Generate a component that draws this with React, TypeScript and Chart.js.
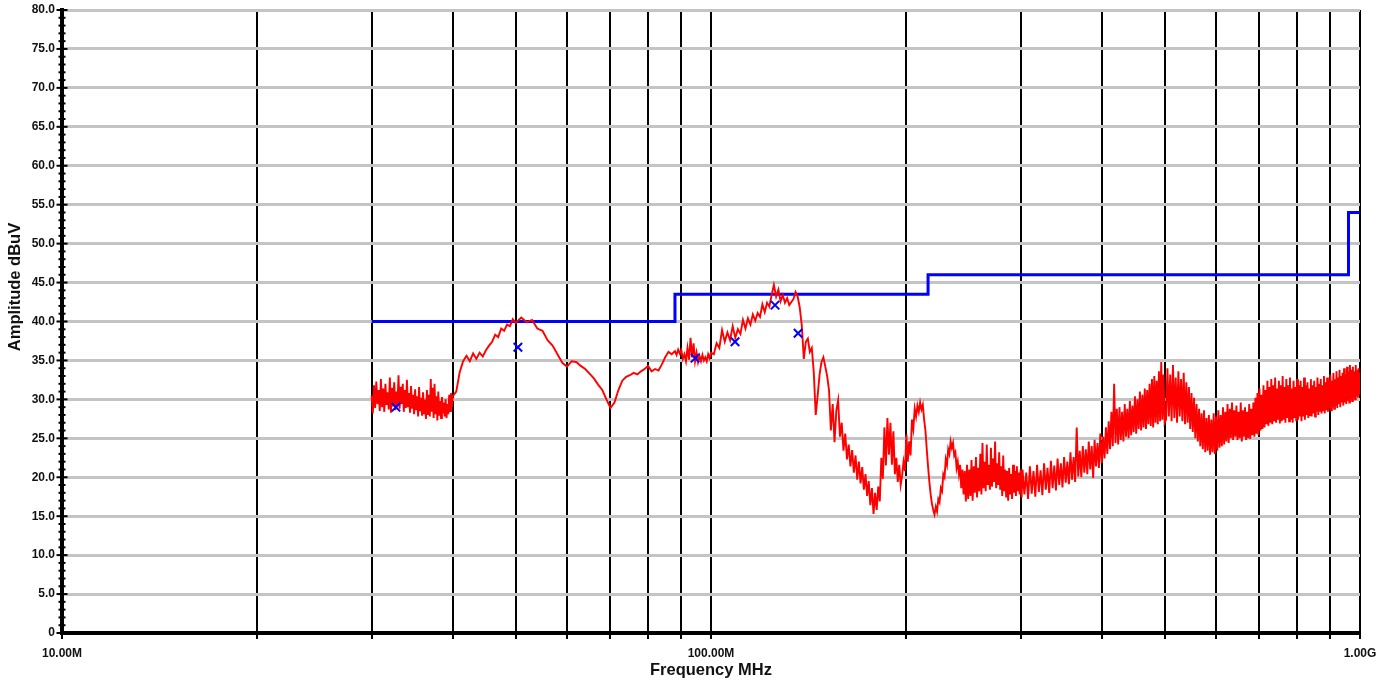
import React, { useEffect, useRef } from "react";
import { Chart, registerables } from "chart.js";

Chart.register(...registerables);

const FONT = "'Liberation Sans', Arial, sans-serif";

// ---- axis definitions ----
const xGridFreqs = [10, 20, 30, 40, 50, 60, 70, 80, 90, 100, 200, 300, 400, 500, 600, 700, 800, 900, 1000];
const xTickLabels: Record<number, string> = { 10: "10.00M", 100: "100.00M", 1000: "1.00G" };
const yMin = 0;
const yMax = 80;
const yMajorStep = 5;

// ---- FCC class B limit (dBuV) ----
const limitFreq = [30, 88, 88, 216, 216, 960, 960, 1000];
const limitLevel = [40, 40, 43.5, 43.5, 46, 46, 54, 54];

// ---- quasi-peak markers ----
const qpFreq = [32.7, 50.4, 94.5, 108.9, 125.5, 136.2];
const qpLevel = [29.0, 36.7, 35.3, 37.4, 42.1, 38.5];

// ---- peak sweep trace [MHz, dBuV] ----
const band30to40: [number, number][] = [
  [30.0, 30.5], [30.125, 28.2], [30.25, 31.8], [30.375, 28.9], [30.5, 32.3], [30.625, 29.4], [30.75, 31.2], [30.875, 28.5],
  [31.0, 32.6], [31.125, 29.0], [31.25, 31.4], [31.375, 28.4], [31.5, 32.0], [31.625, 29.3], [31.75, 30.9], [31.875, 28.7],
  [32.0, 32.8], [32.125, 28.3], [32.25, 31.5], [32.375, 29.1], [32.5, 32.2], [32.625, 28.6], [32.75, 31.0], [32.875, 29.2],
  [33.0, 33.1], [33.125, 28.8], [33.25, 31.6], [33.375, 29.4], [33.5, 32.0], [33.625, 28.4], [33.75, 31.2], [33.875, 28.9],
  [34.0, 32.5], [34.125, 29.0], [34.25, 30.8], [34.375, 28.3], [34.5, 31.7], [34.625, 28.8], [34.75, 30.6], [34.875, 28.1],
  [35.0, 31.3], [35.125, 28.6], [35.25, 30.4], [35.375, 27.8], [35.5, 31.6], [35.625, 28.5], [35.75, 30.2], [35.875, 27.9],
  [36.0, 30.9], [36.125, 28.2], [36.25, 30.0], [36.375, 27.5], [36.5, 31.2], [36.625, 28.0], [36.75, 30.6], [36.875, 27.8],
  [37.0, 32.6], [37.125, 28.4], [37.25, 31.5], [37.375, 27.6], [37.5, 32.0], [37.625, 28.1], [37.75, 30.4], [37.875, 27.3],
  [38.0, 31.0], [38.125, 27.9], [38.25, 29.8], [38.375, 27.6], [38.5, 30.3], [38.625, 28.2], [38.75, 29.6], [38.875, 27.8],
  [39.0, 30.0], [39.125, 27.6], [39.25, 29.4], [39.375, 28.1], [39.5, 30.6], [39.625, 28.5], [39.75, 30.8], [39.875, 29.0],
  [40.0, 30.4],
];
const band40to88: [number, number][] = [
  [40.5, 31.0], [41, 33.5], [41.5, 34.9], [42, 35.6], [42.5, 34.9], [43, 35.9], [43.5, 35.2], [44, 36.0], [44.5, 35.5],
  [45, 36.3], [45.5, 36.9], [46, 37.4], [46.5, 38.3], [47, 38.0], [47.5, 39.1], [48, 38.8], [48.5, 39.6], [49, 39.4],
  [49.5, 40.3], [50, 39.8], [51, 40.5], [52, 39.9], [53, 40.2], [54, 39.1], [55, 38.8], [56, 37.6], [57, 36.9],
  [58, 35.8], [59, 34.7], [60, 34.2], [61, 34.9], [62, 34.8], [63, 34.3], [64, 33.9], [65, 33.3], [66, 32.7],
  [67, 31.9], [68, 31.2], [69, 30.0], [70, 28.9], [71, 29.6], [72, 31.2], [73, 32.4], [74, 32.9], [75, 33.1],
  [76, 33.4], [77, 33.2], [78, 33.6], [79, 33.9], [80, 34.3], [81, 33.6], [82, 33.9], [83, 33.7], [84, 34.5],
  [85, 35.4], [86, 36.1], [87, 35.8], [88, 36.2],
];
const band88to150: [number, number][] = [
  [88.5, 35.7], [89, 36.4], [89.5, 35.9], [90, 36.3], [90.5, 35.2], [91, 35.8], [91.5, 34.9], [92, 36.6],
  [92.5, 35.1], [93, 37.9], [93.5, 35.4], [94, 37.2], [94.5, 34.9], [95, 36.0], [95.5, 34.8], [96, 35.6],
  [96.5, 34.9], [97, 35.7], [97.5, 35.0], [98, 35.4], [98.5, 34.9], [99, 35.8], [99.5, 35.3], [100, 36.0],
  [101, 35.8], [102, 37.2], [103, 36.6], [104, 38.9], [105, 37.4], [106, 38.6], [107, 37.6], [108, 39.4],
  [109, 37.9], [110, 39.0], [111, 38.4], [112, 40.2], [113, 39.1], [114, 40.4], [115, 39.6], [116, 40.9],
  [117, 40.1], [118, 41.1], [119, 40.6], [120, 42.2], [121, 41.2], [122, 42.4], [123, 41.9], [124, 43.4],
  [125, 44.7], [126, 43.2], [127, 44.1], [128, 42.6], [129, 43.4], [130, 42.4], [131, 43.0], [132, 42.1],
  [133, 42.5], [134, 42.9], [135, 43.8], [136, 43.2], [137, 41.8], [138, 39.5], [139, 35.2], [140, 37.4],
  [141, 37.8], [142, 36.1], [143, 36.6], [144, 33.5], [145, 28.0], [146, 30.5], [147, 33.2], [148, 34.8],
  [149, 35.4], [150, 34.2],
];
const band150to200: [number, number][] = [
  [151, 33.0], [152, 31.2], [153, 26.0], [154, 29.4], [155, 24.5], [156, 28.6], [157, 29.9], [158, 25.2],
  [159, 27.0], [160, 23.4], [161, 25.6], [162, 22.3], [163, 24.2], [164, 21.4], [165, 23.5], [166, 20.6],
  [167, 22.8], [168, 19.7], [169, 22.0], [170, 19.2], [171, 21.3], [172, 18.4], [173, 20.4], [174, 17.6],
  [175, 19.5], [176, 16.4], [177, 18.6], [178, 15.3], [179, 18.0], [180, 15.8], [181, 18.8], [182, 16.9],
  [183, 22.5], [184, 19.8], [185, 26.4], [186, 21.5], [187, 27.6], [188, 22.9], [189, 27.0], [190, 21.6],
  [191, 25.9], [192, 20.4], [193, 22.5], [194, 19.4], [195, 21.6], [196, 19.0], [197, 20.2], [198, 22.0],
  [199, 20.8], [200, 25.5],
];
const band200to300: [number, number][] = [
  [201, 22.0], [202, 24.6], [203, 22.8], [204, 27.4], [205, 26.2], [206, 28.8], [207, 27.8], [208, 29.2],
  [209, 28.4], [210, 29.6], [211, 28.7], [212, 29.3], [213, 27.4], [214, 26.0], [215, 23.6], [216, 21.4],
  [217, 19.4], [218, 17.8], [219, 16.6], [220, 15.8], [221, 15.2], [222, 16.2], [223, 15.6], [224, 17.2],
  [225, 16.8], [226, 18.6], [227, 18.2], [228, 20.4], [229, 20.0], [230, 22.3], [231, 21.6], [232, 23.6],
  [233, 23.0], [234, 24.6], [235, 23.8], [236, 24.4], [237, 22.8], [238, 23.2], [239, 21.2], [240, 22.0],
  [241, 20.4], [242, 21.6], [243, 18.6], [244, 21.0], [245, 17.8], [246, 20.8], [247, 16.9], [248, 21.6],
  [249, 17.2], [250, 21.0], [251, 17.6], [252, 22.2], [253, 17.0], [254, 21.4], [255, 18.0], [256, 22.6],
  [257, 17.4], [258, 21.2], [259, 18.2], [260, 23.0], [261, 17.8], [262, 24.4], [263, 18.6], [264, 22.0],
  [265, 18.2], [266, 24.2], [267, 19.0], [268, 21.6], [269, 18.4], [270, 23.8], [271, 18.8], [272, 22.4],
  [273, 19.4], [274, 24.6], [275, 18.6], [276, 21.8], [277, 19.0], [278, 23.2], [279, 18.4], [280, 21.4],
  [281, 17.6], [282, 22.8], [283, 18.2], [284, 21.0], [285, 17.4], [286, 20.8], [287, 17.0], [288, 21.2],
  [289, 17.8], [290, 20.4], [291, 17.2], [292, 21.6], [293, 18.0], [294, 20.8], [295, 17.6], [296, 21.4],
  [297, 18.2], [298, 20.6], [299, 17.8], [300, 21.0],
];
const band300to500: [number, number][] = [
  [301, 17.4], [302, 21.0], [304, 17.8], [306, 20.6], [308, 17.2], [310, 21.4], [312, 17.9], [314, 20.8],
  [316, 17.5], [318, 21.6], [320, 18.1], [322, 20.9], [324, 17.7], [326, 21.8], [328, 18.4], [330, 21.2],
  [332, 18.0], [334, 22.1], [336, 18.6], [338, 21.5], [340, 18.3], [342, 22.4], [344, 19.0], [346, 21.8],
  [348, 18.7], [350, 22.6], [352, 19.3], [354, 22.0], [356, 19.1], [358, 23.2], [360, 19.7], [362, 22.6],
  [364, 19.4], [366, 26.4], [368, 20.1], [370, 23.4], [372, 20.0], [374, 24.0], [376, 20.6], [378, 23.6],
  [380, 20.4], [382, 24.6], [384, 21.0], [386, 24.0], [388, 19.9], [390, 24.8], [392, 21.4], [394, 24.4],
  [396, 21.2], [398, 25.6], [400, 21.8], [402, 25.2], [404, 22.4], [406, 26.4], [408, 23.0], [410, 27.2],
  [412, 23.6], [414, 28.4], [416, 24.0], [418, 32.0], [420, 24.4], [422, 28.8], [424, 24.2], [426, 29.0],
  [428, 24.8], [430, 28.4], [432, 24.6], [434, 29.4], [436, 25.2], [438, 28.8], [440, 25.0], [442, 29.8],
  [444, 25.4], [446, 29.2], [448, 25.8], [450, 30.4], [452, 25.6], [454, 30.0], [456, 26.2], [458, 31.0],
  [460, 26.0], [462, 30.6], [464, 26.4], [466, 31.4], [468, 26.2], [470, 31.2], [472, 26.8], [474, 32.0],
  [476, 26.6], [478, 32.6], [480, 26.4], [482, 33.0], [484, 27.0], [486, 32.4], [488, 26.8], [490, 33.6],
  [492, 27.2], [494, 34.8], [496, 27.4], [498, 33.2], [500, 27.0],
];
const band500to1000: [number, number][] = [
  [502.5, 27.4], [505, 34.0], [507.5, 27.8], [510, 33.2], [512.5, 27.2], [515, 34.4], [517.5, 27.6], [520, 32.8],
  [522.5, 27.0], [525, 33.6], [527.5, 27.8], [530, 32.6], [532.5, 27.2], [535, 33.4], [537.5, 26.8], [540, 32.2],
  [542.5, 27.0], [545, 31.6], [547.5, 26.2], [550, 30.8], [552.5, 25.8], [555, 30.2], [557.5, 25.0], [560, 29.4],
  [562.5, 24.6], [565, 28.8], [567.5, 24.0], [570, 28.2], [572.5, 23.6], [575, 28.6], [577.5, 23.2], [580, 27.6],
  [582.5, 23.4], [585, 28.0], [587.5, 22.9], [590, 27.4], [592.5, 23.2], [595, 28.2], [597.5, 23.0], [600, 27.8],
  [602.5, 23.4], [605, 28.6], [607.5, 23.8], [610, 28.0], [612.5, 24.0], [615, 29.0], [617.5, 24.2], [620, 28.4],
  [622.5, 24.6], [625, 29.4], [627.5, 24.4], [630, 28.8], [632.5, 25.0], [635, 29.6], [637.5, 24.8], [640, 28.6],
  [642.5, 25.2], [645, 29.2], [647.5, 24.8], [650, 28.4], [652.5, 25.0], [655, 29.6], [657.5, 24.6], [660, 28.6],
  [662.5, 25.2], [665, 29.0], [667.5, 24.8], [670, 28.4], [672.5, 25.0], [675, 29.4], [677.5, 24.9], [680, 28.8],
  [682.5, 25.4], [685, 29.6], [687.5, 25.2], [690, 30.2], [692.5, 25.6], [695, 30.8], [697.5, 25.4], [700, 31.4],
  [702.5, 26.0], [705, 30.6], [707.5, 26.2], [710, 31.8], [712.5, 26.4], [715, 31.2], [717.5, 26.8], [720, 32.4],
  [722.5, 26.6], [725, 31.6], [727.5, 27.0], [730, 32.6], [732.5, 26.8], [735, 31.8], [737.5, 27.2], [740, 32.8],
  [742.5, 27.0], [745, 31.4], [747.5, 27.4], [750, 32.4], [752.5, 26.9], [755, 31.8], [757.5, 27.2], [760, 33.0],
  [762.5, 27.4], [765, 31.6], [767.5, 27.0], [770, 32.6], [772.5, 27.6], [775, 31.8], [777.5, 27.2], [780, 32.8],
  [782.5, 27.4], [785, 31.4], [787.5, 27.0], [790, 32.4], [792.5, 27.6], [795, 31.6], [797.5, 27.2], [800, 32.6],
  [802.5, 27.4], [805, 31.8], [807.5, 27.8], [810, 32.4], [812.5, 27.2], [815, 31.6], [817.5, 27.8], [820, 32.8],
  [822.5, 27.4], [825, 31.8], [827.5, 28.0], [830, 32.2], [832.5, 27.6], [835, 31.4], [837.5, 28.0], [840, 32.6],
  [842.5, 27.8], [845, 31.8], [847.5, 28.2], [850, 32.4], [852.5, 27.8], [855, 31.6], [857.5, 28.4], [860, 32.8],
  [862.5, 28.0], [865, 32.0], [867.5, 28.4], [870, 32.6], [872.5, 28.2], [875, 31.8], [877.5, 28.6], [880, 33.0],
  [882.5, 28.2], [885, 32.2], [887.5, 28.6], [890, 32.8], [892.5, 28.4], [895, 32.4], [897.5, 28.8], [900, 33.2],
  [902.5, 28.6], [905, 32.4], [907.5, 29.0], [910, 33.4], [912.5, 28.8], [915, 32.6], [917.5, 29.2], [920, 33.6],
  [922.5, 28.9], [925, 32.8], [927.5, 29.4], [930, 33.8], [932.5, 29.0], [935, 33.0], [937.5, 29.6], [940, 33.4],
  [942.5, 29.2], [945, 34.0], [947.5, 29.6], [950, 33.2], [952.5, 29.4], [955, 34.2], [957.5, 29.8], [960, 33.6],
  [962.5, 29.6], [965, 34.4], [967.5, 30.0], [970, 33.8], [972.5, 29.8], [975, 34.2], [977.5, 30.2], [980, 33.6],
  [982.5, 30.0], [985, 34.4], [987.5, 30.4], [990, 33.8], [992.5, 30.2], [995, 34.0], [997.5, 30.6], [1000, 33.4],
];

const tracePairs = [
  ...band30to40, ...band40to88, ...band88to150, ...band150to200,
  ...band200to300, ...band300to500, ...band500to1000,
];

const axisDecor = {
  id: "axisDecor",
  afterDraw(chart: any) {
    const { ctx } = chart;
    const y = chart.scales.y;
    const x0 = y.right;
    ctx.save();
    ctx.strokeStyle = "#000";
    ctx.lineWidth = 2;
    for (const t of y.ticks) {
      const py = y.getPixelForValue(t.value);
      const L = t.value % yMajorStep === 0 ? 5.5 : 3.5;
      ctx.beginPath();
      ctx.moveTo(x0 - L, py);
      ctx.lineTo(x0 + L, py);
      ctx.stroke();
    }
    ctx.translate(15, 287);
    ctx.rotate(-Math.PI / 2);
    ctx.font = `bold 16.5px ${FONT}`;
    ctx.textAlign = "center";
    ctx.textBaseline = "middle";
    ctx.fillStyle = "#111";
    ctx.fillText("Amplitude dBuV", 0, 0);
    ctx.restore();
  },
};

export default function App() {
  const ref = useRef<HTMLCanvasElement>(null);
  useEffect(() => {
    if (!ref.current) return;
    Chart.defaults.font.family = FONT;
    const chart = new Chart(ref.current, {
      type: "line",
      data: {
        datasets: [
          {
            label: "QP",
            data: qpFreq.map((f, i) => ({ x: f, y: qpLevel[i] })),
            showLine: false,
            pointStyle: "crossRot",
            pointRadius: 6,
            pointBorderWidth: 2,
            borderColor: "#0000ff",
            backgroundColor: "#0000ff",
            order: 0,
          },
          {
            label: "Peak",
            data: tracePairs.map(([f, v]) => ({ x: f, y: v })),
            borderColor: "#ff0000",
            borderWidth: 1.9,
            pointRadius: 0,
            order: 1,
          },
          {
            label: "Limit",
            data: limitFreq.map((f, i) => ({ x: f, y: limitLevel[i] })),
            borderColor: "#0000ff",
            borderWidth: 3,
            pointRadius: 0,
            order: 2,
          },
        ],
      },
      options: {
        animation: false,
        responsive: false,
        maintainAspectRatio: false,
        layout: { padding: { top: 10, right: 29, left: 0, bottom: 0 } },
        plugins: { legend: { display: false }, tooltip: { enabled: false } },
        scales: {
          x: {
            type: "logarithmic",
            position: "bottom",
            min: 10,
            max: 1000,
            afterBuildTicks: (s: any) => {
              s.ticks = xGridFreqs.map((v) => ({ value: v }));
            },
            afterFit: (s: any) => {
              s.height = 50;
              s.paddingLeft = 0;
              s.paddingRight = 0;
            },
            ticks: {
              autoSkip: false,
              maxRotation: 0,
              minRotation: 0,
              padding: 7,
              color: "#111",
              font: { family: FONT, size: 12, weight: "bold" },
              callback: (v: any) => xTickLabels[Number(v)] ?? "",
            },
            grid: {
              color: "#000",
              lineWidth: 2,
              drawTicks: true,
              tickLength: 6,
              tickColor: "#000",
              tickWidth: 2,
            },
            border: { display: true, color: "#000", width: 4 },
            title: {
              display: true,
              text: "Frequency MHz",
              color: "#111",
              font: { family: FONT, size: 16.5, weight: "bold" },
              padding: { top: 0, bottom: 3 },
            },
          },
          y: {
            type: "linear",
            min: yMin,
            max: yMax,
            afterFit: (s: any) => {
              s.width = 62;
              s.paddingTop = 0;
              s.paddingBottom = 0;
            },
            ticks: {
              stepSize: 1,
              autoSkip: false,
              padding: 7,
              color: "#111",
              font: { family: FONT, size: 12, weight: "bold" },
              callback: (v: any) => {
                const n = Number(v);
                if (n % yMajorStep !== 0) return "";
                return n === 0 ? "0" : n.toFixed(1);
              },
            },
            grid: {
              drawTicks: false,
              lineWidth: 3,
              color: (ctx: any) => {
                const v = ctx.tick?.value;
                if (v === undefined) return "transparent";
                if (v % yMajorStep !== 0) return "transparent";
                return v === 0 ? "#000" : "#c4c4c4";
              },
            },
            border: { display: true, color: "#000", width: 4 },
          },
        },
      },
      plugins: [axisDecor],
    } as any);
    return () => chart.destroy();
  }, []);
  return (
    <div style={{ position: "absolute", left: 0, top: 0, width: 1389, height: 683, background: "#fff" }}>
      <canvas ref={ref} width={1389} height={683} style={{ width: 1389, height: 683 }} />
    </div>
  );
}
